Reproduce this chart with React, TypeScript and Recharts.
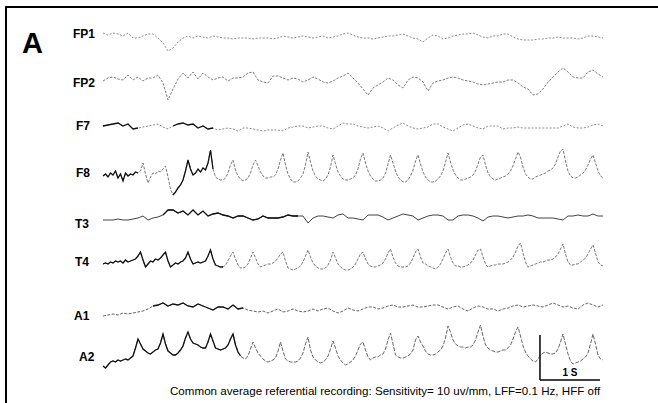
import { LineChart, Line, XAxis, YAxis, ReferenceLine } from 'recharts';

// amplitudes (px of paper, up = positive)
// slow channels: one sample every 1/12 s
const fp1 = [3, 1, 3, 2, 0, 3, -2, -2, 0, 2, 2, -2, -7, -15, -12, -6, -2, 0, -2, 0, -1, -2, 0, -1, -2, -2, -3, -2, -2, -2, -3, -2, -2, -2, -3, -2, 0, -1, -2, -1, 0, -1, -2, -1, 0, -2, -1, 0, 2, 3, 1, -1, -2, -2, -3, -2, -1, 0, 0, 1, 2, 0, -2, -3, -6, -2, 1, 0, -3, -2, 0, 1, 2, 2, 3, 1, -1, -2, 0, 0, 2, 2, -1, -3, -4, -4, -4, -3, -3, -2, -2, -1, -2, -2, -2, -3, -2, 0, 0, -1, -2];
const fp2 = [-1, 2, 3, 1, 0, 5, 0, 3, -1, 2, 2, 5, -3, -20, -9, 1, 7, 2, 8, 1, 7, 3, 0, 2, 3, -1, 2, 2, 3, 7, 8, 0, -2, -3, 4, 4, 2, 0, 2, 1, -2, 0, 3, 1, -2, -3, -1, 2, 4, 7, 2, -3, -9, -15, -8, -5, -2, 2, 0, -5, -8, 0, 3, 2, -2, -11, -3, -1, 0, 2, 3, 2, 0, -1, -2, -4, -5, -4, -3, -2, -2, 0, 0, -3, -7, -9, -15, -14, -9, -2, 3, 8, 12, 8, 3, 2, 2, 8, 10, 6, 3];
const f7 = [0, 1, 2, 3, 0, 2, -3, -2, -1, 0, 1, 2, -1, -3, 0, 2, 3, 1, 2, -2, 0, -3, -2, -4, -3, -2, -3, -5, -2, -2, -3, -4, -5, -4, -4, -4, -5, -2, -1, 0, 0, -2, -1, 0, 0, -2, -3, 0, 3, 2, 2, 0, -1, -2, -1, 0, -2, -5, -2, 1, 3, 0, -2, -3, -2, -1, 2, 2, -1, -3, -5, -2, 1, 2, 0, -2, -3, 0, 0, 0, -3, -2, -2, -1, -2, -2, -2, -2, -2, -2, -2, -2, 0, 2, -1, -2, -2, -1, 1, 2, 0];
const t3 = [-2, -2, -2, -1, -2, -2, -1, 0, 2, -2, 0, 1, 3, 8, 8, 5, 7, 3, 8, 3, 7, 2, 4, 5, 3, 2, 0, 2, 2, 0, -2, -1, 2, 0, 0, 0, 1, 3, 2, 2, 2, -5, 0, 2, 2, 1, 0, 3, 4, 0, 0, -1, -2, 3, 3, 3, 1, -2, 0, 2, 4, 3, 2, -2, 0, 2, 3, 3, 2, -2, -2, 2, 3, 3, 2, 0, -3, 1, 2, 2, 1, 0, 1, 2, 2, 3, 2, 0, 0, 0, 0, -1, -2, 2, 2, 3, 2, 2, 4, 2, 2];
const a1 = [-6, -5, -4, -5, -3, -4, -3, -2, -1, 1, 4, 5, 7, 4, 6, 5, 7, 4, 3, 6, 4, 2, 0, 3, 3, 1, 5, 1, 2, 0, -1, -2, -1, -3, -1, 1, -2, -1, 1, -1, -2, -1, 1, -1, 1, 2, -1, -3, -1, 2, 0, -1, 1, 3, 3, 1, 2, 4, 5, 3, 3, 4, 5, 3, 3, 4, 5, 5, 3, 1, 3, 4, 1, -1, 2, 4, 3, 1, 1, -1, 1, 2, 4, 5, 3, 4, 5, 4, 3, 5, 7, 5, 3, 4, 2, 1, 5, 7, 5, 3, 5];
// periodic sharp-wave channels: one sample every 1/24 s
const f8 = [3, 5, 2, 6, 4, 8, 1, 5, -2, 6, 3, 5, 4, 7, 6, 8, 16, 5, -4, 2, 6, 5, 8, 7, 10, 13, 2, -10, -16, -13, -9, -6, -1, 8, 19, 10, 4, 6, 10, 7, 11, 9, 16, 29, 10, 2, 0, -1, -1, 1, 6, 14, 19, 9, 3, 0, -2, -1, 1, 6, 14, 19, 13, 7, 3, 1, 1, 2, 2, 4, 10, 19, 26, 14, 5, 0, -3, -3, -2, 1, 5, 14, 27, 17, 8, 3, 0, -1, -2, 0, 4, 12, 24, 15, 7, 3, 0, -1, -1, 0, 1, 4, 10, 20, 26, 16, 8, 3, 0, -2, -2, -1, 1, 6, 15, 24, 16, 8, 2, -1, -3, -3, -1, 3, 9, 18, 24, 15, 7, 2, -1, -3, -3, -2, 0, 3, 8, 17, 26, 17, 9, 4, 1, -1, -1, 0, 1, 2, 4, 8, 15, 22, 24, 14, 6, 2, 0, -1, 0, 1, 2, 3, 5, 8, 13, 20, 27, 22, 12, 5, 2, 0, 0, 2, 3, 4, 5, 6, 8, 9, 11, 15, 22, 28, 30, 18, 8, 3, 1, 1, 2, 4, 6, 9, 14, 20, 24, 16, 8, 3, 1];
const t4 = [3, 4, 3, 5, 4, 6, 5, 6, 4, 7, 5, 6, 7, 8, 11, 15, 7, 0, 3, 6, 5, 8, 7, 9, 12, 15, 6, 0, 2, 4, 3, 5, 6, 9, 15, 8, 3, 4, 5, 4, 5, 6, 11, 17, 8, 2, 1, 0, 0, 2, 6, 11, 15, 8, 2, -1, -1, 0, 3, 9, 15, 9, 3, 0, 1, 2, 3, 3, 4, 6, 9, 13, 15, 6, -1, -2, -3, -2, -1, 1, 5, 11, 17, 10, 4, 1, -1, -2, -2, -1, 2, 7, 15, 9, 3, 0, -2, -3, -3, -2, 0, 3, 8, 13, 15, 8, 3, 1, 0, 0, 1, 2, 4, 8, 14, 18, 10, 4, 1, 0, 0, 0, 1, 4, 9, 15, 18, 10, 4, 3, 1, 0, -1, -2, 0, 3, 8, 14, 18, 10, 4, 1, 1, 0, 0, 1, 2, 4, 7, 12, 17, 18, 10, 3, 0, 1, 2, 2, 3, 3, 3, 4, 5, 7, 10, 15, 21, 24, 14, 5, 0, 1, 2, 3, 4, 5, 5, 6, 7, 7, 8, 10, 13, 18, 23, 13, 5, 2, 2, 3, 3, 5, 7, 9, 13, 18, 22, 14, 5, 2, 1];
const a2 = [-4, -6, -3, 0, 1, 0, 2, 1, 2, 3, 2, 4, 6, 14, 23, 18, 13, 11, 9, 8, 10, 12, 13, 19, 28, 18, 11, 9, 7, 7, 9, 12, 16, 24, 30, 23, 19, 18, 17, 15, 14, 14, 20, 28, 21, 14, 13, 12, 13, 14, 17, 23, 28, 17, 10, 6, 4, 3, 6, 13, 20, 14, 9, 6, 3, 1, 0, 1, 2, 4, 11, 20, 11, 3, 1, 0, 0, 0, 1, 4, 9, 18, 25, 12, 5, 2, 0, -1, 0, 2, 6, 13, 21, 14, 6, 2, -1, -3, -2, 0, 2, 6, 12, 18, 20, 12, 5, 2, 4, 5, 5, 7, 8, 13, 22, 29, 18, 7, 5, 4, 4, 5, 6, 8, 12, 22, 26, 20, 16, 11, 8, 7, 7, 8, 10, 12, 16, 24, 36, 30, 22, 18, 16, 15, 15, 14, 15, 15, 17, 22, 30, 37, 26, 17, 14, 12, 11, 10, 10, 11, 12, 12, 14, 17, 23, 30, 35, 26, 16, 10, 6, 3, 1, 0, 3, 7, 9, 10, 9, 8, 8, 9, 13, 20, 28, 18, 8, 1, -2, -1, 0, 1, 3, 5, 9, 18, 28, 18, 7, 3, 2];

const channelNames = ['FP1', 'FP2', 'F7', 'F8', 'T3', 'T4', 'A1', 'A2'];
const channelValues = [fp1, fp2, f7, f8, t3, t4, a1, a2];
const channelStepSec = [1 / 12, 1 / 12, 1 / 12, 1 / 24, 1 / 12, 1 / 24, 1 / 12, 1 / 24];

const TOTAL_SEC = (fp1.length - 1) / 12;
const PLOT_H = 400;

// layout & ink: baseline (px from top), label position, pen colour / dash, heavier-ink stretches (s)
const channelLayout = [
  { baseY: 36, labelX: 73, labelY: 38, ink: '#8c8c8c', dash: '2 1.6', dark: [] as number[][] },
  { baseY: 80, labelX: 73, labelY: 87, ink: '#7c7c7c', dash: '2.5 1.4', dark: [] },
  { baseY: 126, labelX: 76, labelY: 130, ink: '#8c8c8c', dash: '2 1.6', dark: [[0, 0.62], [1.1, 1.87]] },
  { baseY: 179, labelX: 76, labelY: 177, ink: '#777', dash: '3 1.4', dark: [[0, 0.6], [1.15, 1.87]] },
  { baseY: 218, labelX: 75, labelY: 228, ink: '#444', dash: undefined, dark: [[0.95, 3.3]] },
  { baseY: 267, labelX: 75, labelY: 266, ink: '#777', dash: '3 1.4', dark: [[0, 2.0]] },
  { baseY: 310, labelX: 74, labelY: 320, ink: '#666', dash: '3 1.4', dark: [[0.8, 2.4]] },
  { baseY: 362, labelX: 79, labelY: 361, ink: '#666', dash: '4 1.4', dark: [[0, 2.3]] },
];

const FONT = '"Liberation Sans", Arial, sans-serif';
const barStart = 7.283;

export default function App() {
  const series = channelNames.map((name, c) => {
    const step = channelStepSec[c];
    const { baseY, dark } = channelLayout[c];
    const full = channelValues[c].map((v, i) => ({ t: i * step, v: PLOT_H - baseY + v }));
    const heavy = full.map((p) => ({
      t: p.t,
      v: dark.some(([a, b]) => p.t >= a && p.t <= b) ? p.v : null,
    }));
    return { name, full, heavy, layout: channelLayout[c] };
  });

  return (
    <div style={{ position: 'absolute', left: 0, top: 0, width: 658, height: 403, background: '#fff', overflow: 'hidden' }}>
      <div style={{ position: 'absolute', left: 5, top: 6, right: 0, bottom: -4, borderLeft: '2px solid #000', borderTop: '2px solid #000' }} />
      <LineChart
        width={658}
        height={403}
        margin={{ top: 0, right: 55, bottom: 3, left: 103 }}
        style={{ position: 'absolute', left: 0, top: 0 }}
      >
        <XAxis dataKey="t" type="number" domain={[0, TOTAL_SEC]} allowDuplicatedCategory={false} hide />
        <YAxis type="number" domain={[0, PLOT_H]} hide />
        {series.map((s) => (
          <Line
            key={s.name}
            data={s.full}
            dataKey="v"
            type="linear"
            stroke={s.layout.ink}
            strokeWidth={1}
            strokeDasharray={s.layout.dash}
            dot={false}
            activeDot={false}
            isAnimationActive={false}
          />
        ))}
        {series
          .filter((s) => s.layout.dark.length > 0)
          .map((s) => (
            <Line
              key={`${s.name}-heavy`}
              data={s.heavy}
              dataKey="v"
              type="linear"
              stroke="#111"
              strokeWidth={1.3}
              connectNulls={false}
              dot={false}
              activeDot={false}
              isAnimationActive={false}
            />
          ))}
        <ReferenceLine segment={[{ x: barStart, y: PLOT_H - 335 }, { x: barStart, y: PLOT_H - 380 }]} stroke="#000" strokeWidth={1.5} />
        <ReferenceLine segment={[{ x: barStart, y: PLOT_H - 380 }, { x: barStart + 1, y: PLOT_H - 380 }]} stroke="#000" strokeWidth={1.5} />
      </LineChart>
      <svg width={658} height={403} style={{ position: 'absolute', left: 0, top: 0, pointerEvents: 'none' }}>
        <text x={22} y={53} fontFamily={FONT} fontWeight="bold" fontSize={29} fill="#000">A</text>
        {channelNames.map((name, c) => (
          <text key={name} x={channelLayout[c].labelX} y={channelLayout[c].labelY} fontFamily={FONT} fontWeight="bold" fontSize={12} fill="#000">
            {name}
          </text>
        ))}
        <text x={570} y={376} textAnchor="middle" fontFamily={FONT} fontWeight="bold" fontSize={10} fill="#000">1 S</text>
        <text x={170} y={395} fontFamily={FONT} fontSize={11.6} fill="#000">
          Common average referential recording: Sensitivity= 10 uv/mm, LFF=0.1 Hz, HFF off
        </text>
      </svg>
    </div>
  );
}
